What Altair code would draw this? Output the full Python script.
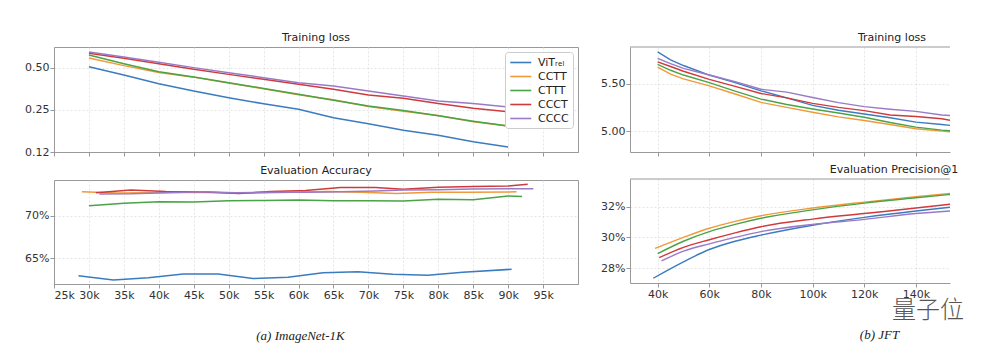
import altair as alt
import pandas as pd

SERIES = ["ViTᵣₑₗ", "CCTT", "CTTT", "CCCT", "CCCC"]
COLORS = ["#3b7bbf", "#f0993a", "#4aa346", "#cf3a3c", "#9a7ac6"]

# ---------------- (a) ImageNet-1K : training loss ----------------
in_loss_steps = [30, 35, 40, 45, 50, 55, 60, 65, 70, 75, 80, 85, 90]
in_loss_vit = [0.51, 0.445, 0.386, 0.342, 0.306, 0.277, 0.253, 0.22, 0.199, 0.179, 0.165, 0.148, 0.136]
in_loss_cctt = [0.59, 0.52, 0.465, 0.43, 0.39, 0.355, 0.322, 0.296, 0.265, 0.245, 0.228, 0.206, 0.192]
in_loss_cttt = [0.62, 0.537, 0.47, 0.431, 0.392, 0.357, 0.324, 0.294, 0.267, 0.248, 0.227, 0.208, 0.192]
in_loss_ccct = [0.637, 0.587, 0.537, 0.49, 0.45, 0.415, 0.382, 0.352, 0.32, 0.303, 0.278, 0.257, 0.243]
in_loss_cccc = [0.651, 0.60, 0.55, 0.503, 0.463, 0.426, 0.392, 0.371, 0.342, 0.315, 0.29, 0.278, 0.263]

# ---------------- (a) ImageNet-1K : evaluation accuracy ----------------
in_acc_vit_steps = [28.5, 33.5, 38.5, 43.5, 48.5, 53.5, 58.5, 63.5, 68.5, 73.5, 78.5, 83.5, 90.5]
in_acc_vit = [62.94, 62.44, 62.7, 63.14, 63.14, 62.6, 62.75, 63.3, 63.42, 63.1, 63.0, 63.35, 63.7]
in_acc_cctt_steps = [29, 34, 39, 44, 49, 54, 59, 64, 69, 74, 79, 84, 91.2]
in_acc_cctt = [72.87, 72.7, 72.75, 72.8, 72.75, 72.7, 72.8, 72.9, 72.8, 72.65, 72.8, 72.8, 72.85]
in_acc_cttt_steps = [30, 35, 40, 45, 50, 55, 60, 65, 70, 75, 80, 85, 90, 92]
in_acc_cttt = [71.22, 71.5, 71.69, 71.65, 71.8, 71.82, 71.9, 71.8, 71.8, 71.77, 71.97, 71.93, 72.36, 72.3]
in_acc_ccct_steps = [31, 36, 41, 46, 51.5, 56, 61, 66, 71, 75, 80, 85, 90, 92.8]
in_acc_ccct = [72.75, 73.07, 72.9, 72.85, 72.65, 72.9, 73.0, 73.35, 73.35, 73.15, 73.4, 73.47, 73.55, 73.74]
in_acc_cccc_steps = [31.5, 36, 41, 46, 51, 56, 61, 66, 71, 75, 80, 85, 93.6]
in_acc_cccc = [72.6, 72.62, 72.75, 72.85, 72.75, 72.8, 72.8, 72.85, 72.95, 73.07, 73.1, 73.19, 73.23]

# ---------------- (b) JFT : training loss ----------------
jft_loss_steps = [40, 45, 50, 60, 70, 80, 90, 100, 110, 120, 130, 140, 150, 155]
jft_loss_vit = [5.833, 5.75, 5.69, 5.59, 5.51, 5.424, 5.35, 5.27, 5.22, 5.18, 5.14, 5.094, 5.07, 5.055]
jft_loss_cctt = [5.674, 5.60, 5.55, 5.476, 5.39, 5.302, 5.25, 5.198, 5.15, 5.111, 5.07, 5.025, 5.0, 4.99]
jft_loss_cttt = [5.702, 5.64, 5.59, 5.51, 5.42, 5.337, 5.28, 5.233, 5.19, 5.146, 5.09, 5.042, 5.01, 5.0]
jft_loss_ccct = [5.729, 5.68, 5.63, 5.545, 5.47, 5.396, 5.35, 5.292, 5.25, 5.216, 5.17, 5.153, 5.13, 5.105]
jft_loss_cccc = [5.765, 5.71, 5.66, 5.59, 5.52, 5.44, 5.41, 5.354, 5.30, 5.257, 5.23, 5.208, 5.17, 5.16]

# ---------------- (b) JFT : evaluation precision@1 ----------------
jft_prec_steps_tail = [50, 60, 70, 80, 100, 120, 140, 155]
jft_prec_start = [38.3, 39.0, 40.0, 40.6, 41.5]
jft_prec_vit = [27.33, 28.4, 29.21, 29.75, 30.15, 30.8, 31.31, 31.73, 32.0]
jft_prec_cctt = [29.28, 30.0, 30.6, 31.05, 31.42, 31.92, 32.31, 32.67, 32.9]
jft_prec_cttt = [28.94, 29.75, 30.38, 30.85, 31.25, 31.8, 32.24, 32.59, 32.84]
jft_prec_ccct = [28.68, 29.35, 29.85, 30.3, 30.7, 31.2, 31.56, 31.92, 32.2]
jft_prec_cccc = [28.46, 29.1, 29.58, 30.0, 30.38, 30.85, 31.18, 31.56, 31.75]

captions = ["(a) ImageNet-1K", "(b) JFT"]
watermark = ["量子位"]


def long_frame(pairs):
    rows = []
    for name, steps, vals in pairs:
        for s, v in zip(steps, vals):
            rows.append({"series": name, "step": s, "value": v})
    return pd.DataFrame(rows)


df_in_loss = long_frame([
    (SERIES[0], in_loss_steps, in_loss_vit),
    (SERIES[1], in_loss_steps, in_loss_cctt),
    (SERIES[2], in_loss_steps, in_loss_cttt),
    (SERIES[3], in_loss_steps, in_loss_ccct),
    (SERIES[4], in_loss_steps, in_loss_cccc),
])
df_in_acc = long_frame([
    (SERIES[0], in_acc_vit_steps, in_acc_vit),
    (SERIES[1], in_acc_cctt_steps, in_acc_cctt),
    (SERIES[2], in_acc_cttt_steps, in_acc_cttt),
    (SERIES[3], in_acc_ccct_steps, in_acc_ccct),
    (SERIES[4], in_acc_cccc_steps, in_acc_cccc),
])
df_jft_loss = long_frame([
    (SERIES[0], jft_loss_steps, jft_loss_vit),
    (SERIES[1], jft_loss_steps, jft_loss_cctt),
    (SERIES[2], jft_loss_steps, jft_loss_cttt),
    (SERIES[3], jft_loss_steps, jft_loss_ccct),
    (SERIES[4], jft_loss_steps, jft_loss_cccc),
])
prec_vals = [jft_prec_vit, jft_prec_cctt, jft_prec_cttt, jft_prec_ccct, jft_prec_cccc]
df_jft_prec = long_frame([
    (SERIES[i], [jft_prec_start[i]] + jft_prec_steps_tail, prec_vals[i]) for i in range(5)
])

FONT = "DejaVu Sans"
GRID = dict(gridColor="#dedede", gridDash=[2, 2], gridWidth=0.8)
color_nolegend = alt.Color("series:N", scale=alt.Scale(domain=SERIES, range=COLORS), legend=None)

WA, WB = 524, 320
H1, H2 = 105, 104

CAPTION_STYLE = dict(titleFont="Liberation Serif", titleFontStyle="italic", titleFontWeight="normal",
                     titleFontSize=13, titleColor="#222", titleY=51,
                     titleAlign="center", titleBaseline="middle")

x_a_top = alt.X("step:Q", scale=alt.Scale(domain=[25, 100], nice=False),
                axis=alt.Axis(values=list(range(25, 100, 5)), labels=False, title=None, **GRID))
x_a_bot = alt.X("step:Q", scale=alt.Scale(domain=[25, 100], nice=False),
                axis=alt.Axis(values=list(range(25, 100, 5)), labelExpr="datum.value + 'k'",
                              title=captions[0], titleX=246, **CAPTION_STYLE, **GRID))


def ttl(text, dx=0):
    return alt.TitleParams(text, fontSize=11, fontWeight="normal", font=FONT, color="#222", offset=4, dx=dx)


top_a = alt.Chart(df_in_loss, title=ttl("Training loss")).mark_line(strokeWidth=1.5).encode(
    x=x_a_top,
    y=alt.Y("value:Q", scale=alt.Scale(type="log", base=2, domain=[0.125, 0.707], nice=False),
            axis=alt.Axis(values=[0.125, 0.25, 0.5],
                          labelExpr="datum.value < 0.2 ? '0.12' : format(datum.value, '.2f')",
                          title=None, **GRID)),
    color=alt.Color("series:N", scale=alt.Scale(domain=SERIES, range=COLORS),
                    legend=alt.Legend(title=None, orient="top-right", offset=5,
                                      symbolType="M-1,0L3,0", symbolSize=110, symbolStrokeWidth=1.6,
                                      labelOffset=16, labelFont=FONT,
                                      labelFontSize=11, labelColor="#222", rowPadding=2,
                                      padding=4, strokeColor="#cccccc", fillColor="white",
                                      cornerRadius=3)),
).properties(width=WA, height=H1)

bot_a = alt.Chart(df_in_acc, title=ttl("Evaluation Accuracy")).mark_line(strokeWidth=1.5).encode(
    x=x_a_bot,
    y=alt.Y("value:Q", scale=alt.Scale(domain=[61.96, 74.25], nice=False, zero=False),
            axis=alt.Axis(values=[65, 70], labelExpr="datum.value + '%'", title=None, **GRID)),
    color=color_nolegend,
).properties(width=WA, height=H2)

x_b_scale = alt.Scale(domain=[29.3, 153.2], nice=False, zero=False)

top_border = alt.Chart(pd.DataFrame({"t": [0]})).mark_rule(color="#999999", strokeWidth=1).encode(
    x=alt.value(0), x2=alt.value(WB), y=alt.value(0))

top_b_lines = alt.Chart(df_jft_loss).mark_line(strokeWidth=1.4, clip=True).encode(
    x=alt.X("step:Q", scale=x_b_scale,
            axis=alt.Axis(values=list(range(40, 160, 20)), labels=False, title=None, **GRID)),
    y=alt.Y("value:Q", scale=alt.Scale(domain=[4.78, 5.885], nice=False, zero=False),
            axis=alt.Axis(values=[5.0, 5.5], format=".2f", title=None, **GRID)),
    color=color_nolegend,
)
top_b = alt.layer(top_b_lines, top_border, title=ttl("Training loss", 102)).properties(
    width=WB, height=H1, view=alt.ViewBackground(stroke=None))

bot_b_lines = alt.Chart(df_jft_prec).mark_line(strokeWidth=1.4, clip=True, interpolate="monotone").encode(
    x=alt.X("step:Q", scale=x_b_scale,
            axis=alt.Axis(values=list(range(40, 160, 20)), labelExpr="datum.value + 'k'",
                          title=captions[1], titleX=249, **CAPTION_STYLE, **GRID)),
    y=alt.Y("value:Q", scale=alt.Scale(domain=[27.02, 33.82], nice=False, zero=False),
            axis=alt.Axis(values=[28, 30, 32], labelExpr="datum.value + '%'", title=None, **GRID)),
    color=color_nolegend,
)
wm = alt.Chart(pd.DataFrame({"t": watermark})).mark_text(
    font="Noto Sans CJK SC", fontSize=24, fontWeight=300, color="#555555"
).encode(x=alt.value(298), y=alt.value(132), text="t:N")
bot_b = alt.layer(bot_b_lines, top_border, wm, title=ttl("Evaluation Precision@1", 104)).properties(
    width=WB, height=H2, view=alt.ViewBackground(stroke=None))

left = alt.vconcat(top_a, bot_a, spacing=6).resolve_scale(color="independent").resolve_legend(color="independent")
right = alt.vconcat(top_b, bot_b, spacing=6).resolve_scale(color="independent").resolve_legend(color="independent")

chart = alt.hconcat(left, right, spacing=21).resolve_scale(color="independent").resolve_legend(
    color="independent"
).properties(
    padding={"left": 24, "top": 31, "right": 5, "bottom": 0},
    background="white",
).configure_view(
    stroke="#999999", strokeWidth=1
).configure_axis(
    labelFont=FONT, labelFontSize=11, labelColor="#333333", labelPadding=1,
    tickColor="#999999", tickSize=4, domainColor="#999999", domainWidth=1,
)

chart.save("out.html", embed_options={"renderer": "svg", "actions": False})
